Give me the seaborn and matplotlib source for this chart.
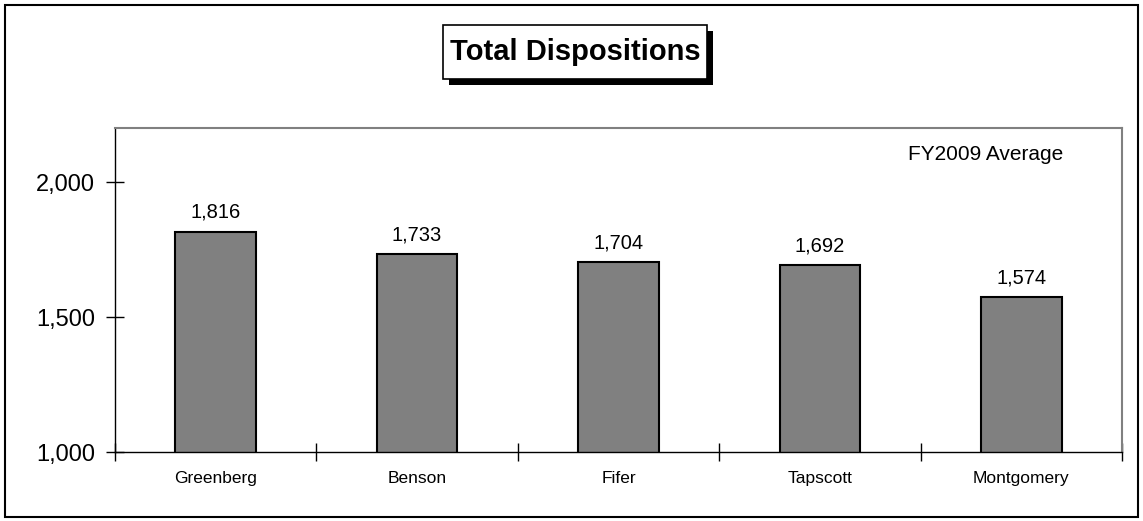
import matplotlib
matplotlib.use("Agg")
import matplotlib.pyplot as plt
import matplotlib.ticker as mticker
from matplotlib.patches import Rectangle
import pandas as pd
import seaborn as sns

# data
judges = ["Greenberg", "Benson", "Fifer", "Tapscott", "Montgomery"]
dispositions = [1816, 1733, 1704, 1692, 1574]
y_ticks = [1000, 1500, 2000]

df = pd.DataFrame({"Judge": judges, "Dispositions": dispositions})

sns.set_theme(style="white")
plt.rcParams["font.family"] = ["Liberation Sans", "DejaVu Sans"]
plt.rcParams["text.color"] = "black"
plt.rcParams["xtick.color"] = "black"
plt.rcParams["ytick.color"] = "black"

fig = plt.figure(figsize=(11.43, 5.21), dpi=100)
ax = fig.add_axes([0.1006, 0.1324, 0.8810, 0.6219])

sns.barplot(data=df, x="Judge", y="Dispositions", color="#808080",
            saturation=1, width=0.4, edgecolor="black", linewidth=1.5, ax=ax)

ax.set_ylim(1000, 2200)
ax.set_xlim(-0.5, len(judges) - 0.5)
ax.set_yticks(y_ticks)
ax.yaxis.set_major_formatter(mticker.StrMethodFormatter("{x:,.0f}"))
ax.tick_params(axis="y", labelsize=17, length=13, direction="inout", width=1, left=True, pad=8)
ax.tick_params(axis="x", labelsize=12.5, length=0, pad=14)
# category boundary ticks on x axis
ax.set_xticks([i - 0.5 for i in range(len(judges) + 1)], minor=True)
ax.tick_params(axis="x", which="minor", length=13, direction="inout", width=1, bottom=True)
ax.set_xlabel("")
ax.set_ylabel("")

for side in ["left", "bottom"]:
    ax.spines[side].set_color("black")
    ax.spines[side].set_linewidth(1)
for side in ["top", "right"]:
    ax.spines[side].set_color("#808080")
    ax.spines[side].set_linewidth(1.5)

for cont in ax.containers:
    ax.bar_label(cont, labels=[f"{v:,}" for v in dispositions], padding=7, fontsize=14.5)

ax.text(0.942, 0.917, "FY2009 Average", transform=ax.transAxes, ha="right", va="center", fontsize=15)

# title box with drop shadow
fig.patches.append(Rectangle((0.3876 + 0.0053, 0.8484 - 0.0115), 0.2310, 0.1036, transform=fig.transFigure,
                             facecolor="black", edgecolor="none", zorder=1))
fig.patches.append(Rectangle((0.3876, 0.8484), 0.2310, 0.1036, transform=fig.transFigure,
                             facecolor="white", edgecolor="black", linewidth=1.2, zorder=2))
fig.text(0.503, 0.900, "Total Dispositions", ha="center", va="center", fontsize=21,
         fontweight="bold", zorder=3)

# outer border
fig.patches.append(Rectangle((0.004, 0.008), 0.992, 0.983, transform=fig.transFigure,
                             facecolor="none", edgecolor="black", linewidth=1.5))

fig.savefig("out.png", dpi=100)
